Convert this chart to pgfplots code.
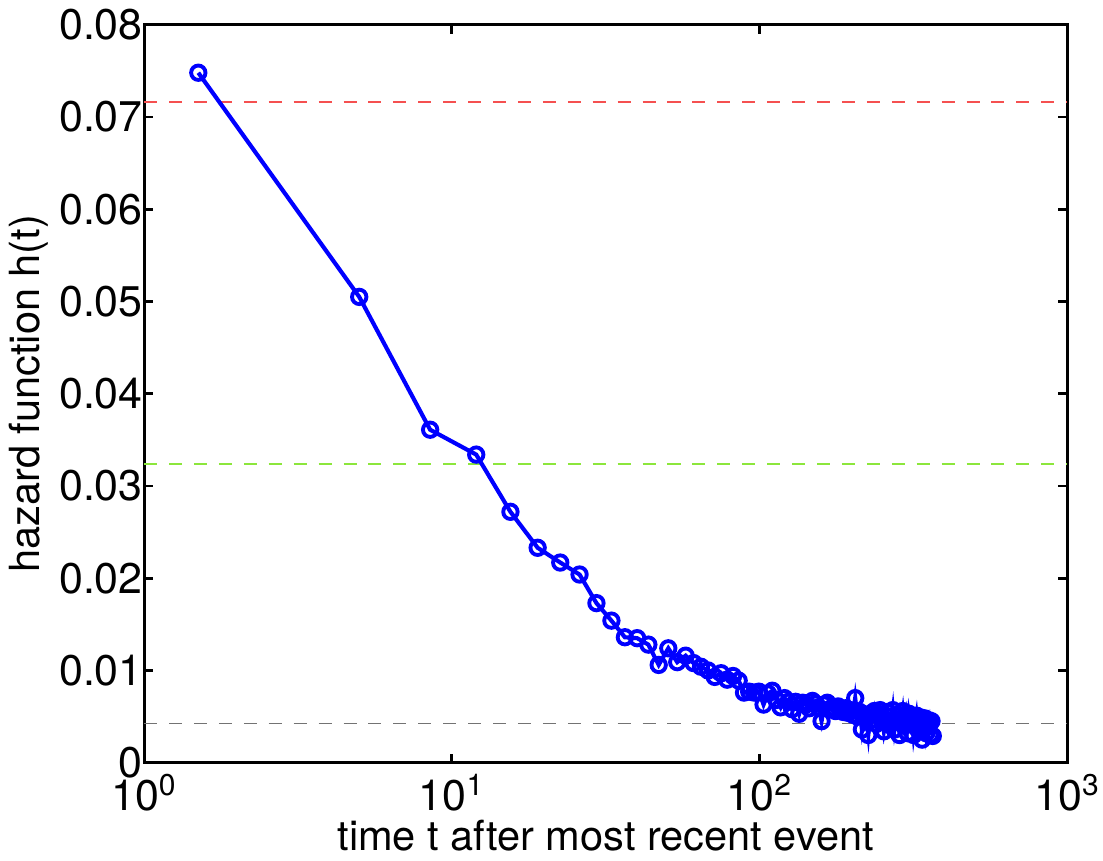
\documentclass[border=0pt]{standalone}
\usepackage{pgfplots}
\pgfplotsset{compat=1.18}
\usepackage{pgfplotstable}
\usepackage{fontspec}
\setmainfont{TeX Gyre Heros}
\pgfplotstableread{
t h
1.5 0.0748
5 0.0505
8.5 0.0361
12 0.0334
15.5 0.0272
19 0.0233
22.5 0.0217
26 0.0204
29.5 0.0173
33 0.0154
36.5 0.0136
40 0.0135
43.5 0.0128
47 0.0106
50.5 0.0124
54 0.0109
57.5 0.0116
61 0.0108
64.5 0.0104
68 0.0100
71.5 0.0093
75 0.0097
78.5 0.0090
82 0.0094
85.5 0.0089
89 0.0076
92.5 0.0077
96 0.0076
99.5 0.0077
103 0.0063
106.5 0.0075
110 0.0078
113.5 0.0068
117 0.0060
120.5 0.0070
124 0.0066
127.5 0.0058
131 0.0066
134.5 0.0053
138 0.0065
141.5 0.0063
145 0.0059
148.5 0.0067
152 0.0064
155.5 0.0060
159 0.0045
162.5 0.0063
166 0.0065
169.5 0.0058
173 0.0060
176.5 0.0056
180 0.0061
183.5 0.0057
187 0.0055
190.5 0.0059
194 0.0054
197.5 0.0057
201 0.0052
204.5 0.0070
208 0.0050
211.5 0.0055
215 0.0036
218.5 0.0052
222 0.0048
225.5 0.0030
229 0.0053
232.5 0.0047
236 0.0056
239.5 0.0042
243 0.0052
246.5 0.0057
250 0.0049
253.5 0.0034
257 0.0045
260.5 0.0055
264 0.0050
267.5 0.0043
271 0.0057
274.5 0.0036
278 0.0047
281.5 0.0052
285 0.0030
288.5 0.0045
292 0.0056
295.5 0.0040
299 0.0050
302.5 0.0032
306 0.0053
309.5 0.0044
313 0.0048
316.5 0.0030
320 0.0041
323.5 0.0051
327 0.0036
330.5 0.0046
334 0.0049
337.5 0.0025
341 0.0044
344.5 0.0048
348 0.0032
351.5 0.0041
355 0.0046
358.5 0.0030
362 0.0045
365.5 0.0029
}\datatable
\begin{document}
\begin{tikzpicture}
\begin{axis}[
  scale only axis,
  width=333.4pt, height=266.5pt,
  xmode=log, log basis x=10,
  xmin=1, xmax=1000, ymin=0, ymax=0.08,
  scaled y ticks=false,
  xtick={1,10,100,1000},
  xticklabels={10\textsuperscript{0},10\textsuperscript{1},10\textsuperscript{2},10\textsuperscript{3}},
  ytick={0,0.01,0.02,0.03,0.04,0.05,0.06,0.07,0.08},
  yticklabels={0,0.01,0.02,0.03,0.04,0.05,0.06,0.07,0.08},
  tick align=inside,
  tick pos=both,
  major tick length=3.2pt,
  minor tick length=1.8pt,
  every tick/.style={black, line width=1pt},
  axis line style={line width=1.1pt},
  tick label style={font=\fontsize{15.5}{17}\selectfont},
  label style={font=\fontsize{15}{17}\selectfont},
  xlabel={time t after most recent event},
  ylabel={hazard function h(t)},
  xlabel style={yshift=1pt},
  ylabel style={yshift=-3pt},
  xticklabel style={yshift=-3pt, inner sep=1pt},
  yticklabel style={xshift=3pt},
  clip=true,
]
\addplot[color={rgb,255:red,245;green,80;blue,80}, dash pattern=on 4.7pt off 4.3pt, line width=0.75pt] coordinates {(1,0.0716) (1000,0.0716)};
\addplot[color={rgb,255:red,140;green,230;blue,60}, dash pattern=on 4.7pt off 4.3pt, line width=0.75pt] coordinates {(1,0.03237) (1000,0.03237)};
\addplot[color={rgb,255:red,115;green,115;blue,115}, dash pattern=on 4.7pt off 4.3pt, line width=0.7pt] coordinates {(1,0.00425) (1000,0.00425)};
\addplot[blue, line width=1.5pt, mark=o, mark size=2.6pt, mark options={line width=1.4pt}] table[x=t,y=h] {\datatable};
\end{axis}
\end{tikzpicture}
\end{document}
